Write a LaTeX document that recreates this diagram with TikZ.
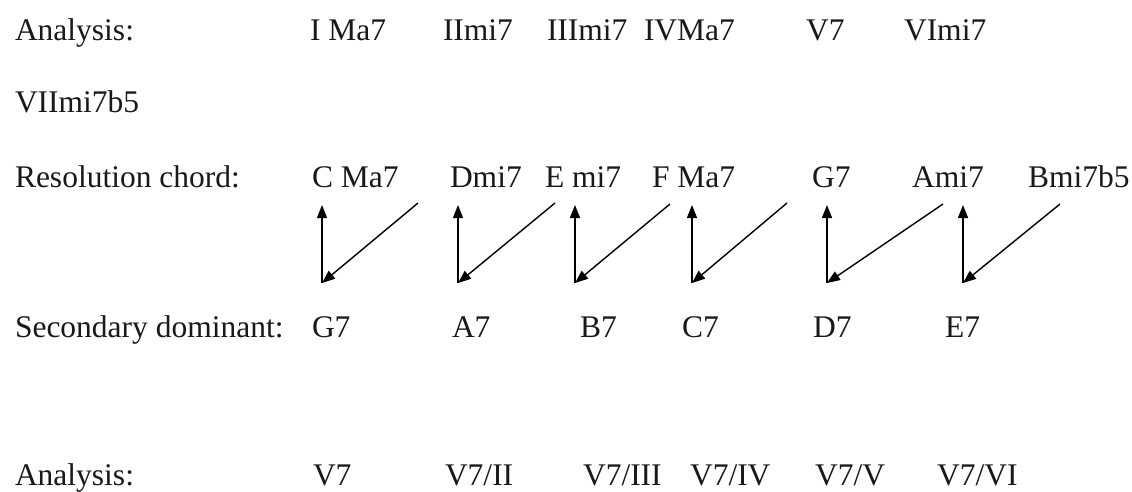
\documentclass[tikz,border=0pt]{standalone}
\usepackage{fontspec}
\setmainfont{Liberation Serif}
\usetikzlibrary{arrows.meta}
\begin{document}
\begin{tikzpicture}[x=1pt,y=-1pt,
  lbl/.style={anchor=base west,inner sep=0pt,outer sep=0pt,font=\fontsize{31.5}{36}\selectfont,text=black!90},
  conn/.style={line width=1.4pt,-{Triangle[length=13pt,width=10pt]}}]
\useasboundingbox[fill=white] (0,0) rectangle (1132,491);
% row 1
\node[lbl] (an1) at (15,40) {Analysis:};
\node[lbl] (r1a) at (310,40) {I Ma7};
\node[lbl] (r1b) at (443,40) {IImi7};
\node[lbl] (r1c) at (547,40) {IIImi7};
\node[lbl] (r1d) at (644,40) {IVMa7};
\node[lbl] (r1e) at (806,40) {V7};
\node[lbl] (r1f) at (904,40) {VImi7};
% row 2
\node[lbl] (r2a) at (15,112) {VIImi7b5};
% row 3
\node[lbl] (res) at (15,187) {Resolution chord:};
\node[lbl] (c1) at (312,187) {C Ma7};
\node[lbl] (c2) at (450,187) {Dmi7};
\node[lbl] (c3) at (545,187) {E mi7};
\node[lbl] (c4) at (652,187) {F Ma7};
\node[lbl] (c5) at (812,187) {G7};
\node[lbl] (c6) at (912,187) {Ami7};
\node[lbl] (c7) at (1028,187) {Bmi7b5};
% row 4
\node[lbl] (sec) at (15,337) {Secondary dominant:};
\node[lbl] (d1) at (312,337) {G7};
\node[lbl] (d2) at (452,337) {A7};
\node[lbl] (d3) at (580,337) {B7};
\node[lbl] (d4) at (682,337) {C7};
\node[lbl] (d5) at (813,337) {D7};
\node[lbl] (d6) at (945,337) {E7};
% row 5
\node[lbl] (an2) at (15,485) {Analysis:};
\node[lbl] (v1) at (313,485) {V7};
\node[lbl] (v2) at (445,485) {V7/II};
\node[lbl] (v3) at (583,485) {V7/III};
\node[lbl] (v4) at (690,485) {V7/IV};
\node[lbl] (v5) at (815,485) {V7/V};
\node[lbl] (v6) at (937,485) {V7/VI};
% arrow coordinates
\foreach \i/\x in {1/322,2/458,3/575,4/692,5/827,6/963}{
  \coordinate (t\i) at (\x,205);
  \coordinate (b\i) at (\x,283);
}
\coordinate (s1) at (418,203);
\coordinate (s2) at (555,203);
\coordinate (s3) at (670,204);
\coordinate (s4) at (787,203);
\coordinate (s5) at (943,204);
\coordinate (s6) at (1060,204);
\foreach \i in {1,...,6}{
  \draw[conn] (b\i) -- (t\i);
  \draw[conn] (s\i) -- (b\i);
}
\end{tikzpicture}
\end{document}
